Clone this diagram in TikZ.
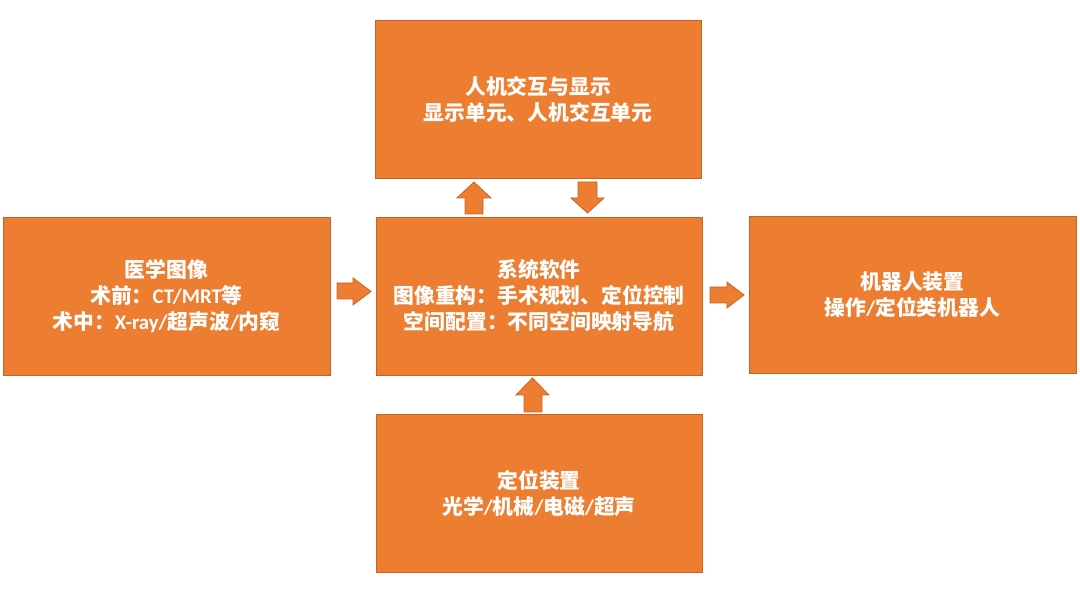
\documentclass[tikz,border=0pt]{standalone}
\usepackage{fontspec}
\setmainfont{Noto Sans CJK SC}
\newfontfamily\latn{Carlito}[BoldFont={Carlito Bold}]
\newcommand{\lt}[1]{{\latn\bfseries #1}}
\definecolor{boxfill}{HTML}{ED7D31}
\definecolor{boxedge}{HTML}{C8631E}
\tikzset{
  block/.style={draw=boxedge, line width=0.8pt, fill=boxfill, text=white,
    align=center, inner sep=0pt, font=\bfseries\fontsize{20.8}{26}\selectfont},
  blockarrow/.style={draw=boxedge, line width=0.8pt, fill=boxfill, line join=miter}
}
\begin{document}
\begin{tikzpicture}[x=1pt,y=-1pt]
\useasboundingbox (0,0) rectangle (1080,593);
\node[block, minimum width=326pt, minimum height=158pt] (top) at (538,99) {人机交互与显示\\显示单元、人机交互单元};
\node[block, minimum width=327pt, minimum height=158pt] (left) at (166.5,296) {医学图像\\术前：\lt{CT/MRT}等\\术中：\lt{X-ray/}超声波\lt{/}内窥};
\node[block, minimum width=326pt, minimum height=158pt] (center) at (539,296) {系统软件\\图像重构：手术规划、定位控制\\空间配置：不同空间映射导航};
\node[block, minimum width=327pt, minimum height=157pt] (right) at (912.5,294.5) {机器人装置\\操作\lt{/}定位类机器人};
\node[block, minimum width=326pt, minimum height=158pt] (bottom) at (539,493) {定位装置\\光学\lt{/}机械\lt{/}电磁\lt{/}超声};
% left -> center
\draw[blockarrow] (337,283) -- (353,283) -- (353,278) -- (371,291.5) -- (353,305) -- (353,299) -- (337,299) -- cycle;
% center -> right
\draw[blockarrow] (710,287) -- (727,287) -- (727,282) -- (744,295) -- (727,308) -- (727,303) -- (710,303) -- cycle;
% center -> top
\draw[blockarrow] (465,214) -- (465,198) -- (457,198) -- (474,182) -- (491,198) -- (483,198) -- (483,214) -- cycle;
% top -> center
\draw[blockarrow] (578,182) -- (597,182) -- (597,198) -- (604,198) -- (587.5,213) -- (571,198) -- (578,198) -- cycle;
% bottom -> center
\draw[blockarrow] (524,412) -- (524,395) -- (516,395) -- (532.5,378) -- (549,395) -- (542,395) -- (542,412) -- cycle;
\end{tikzpicture}
\end{document}
